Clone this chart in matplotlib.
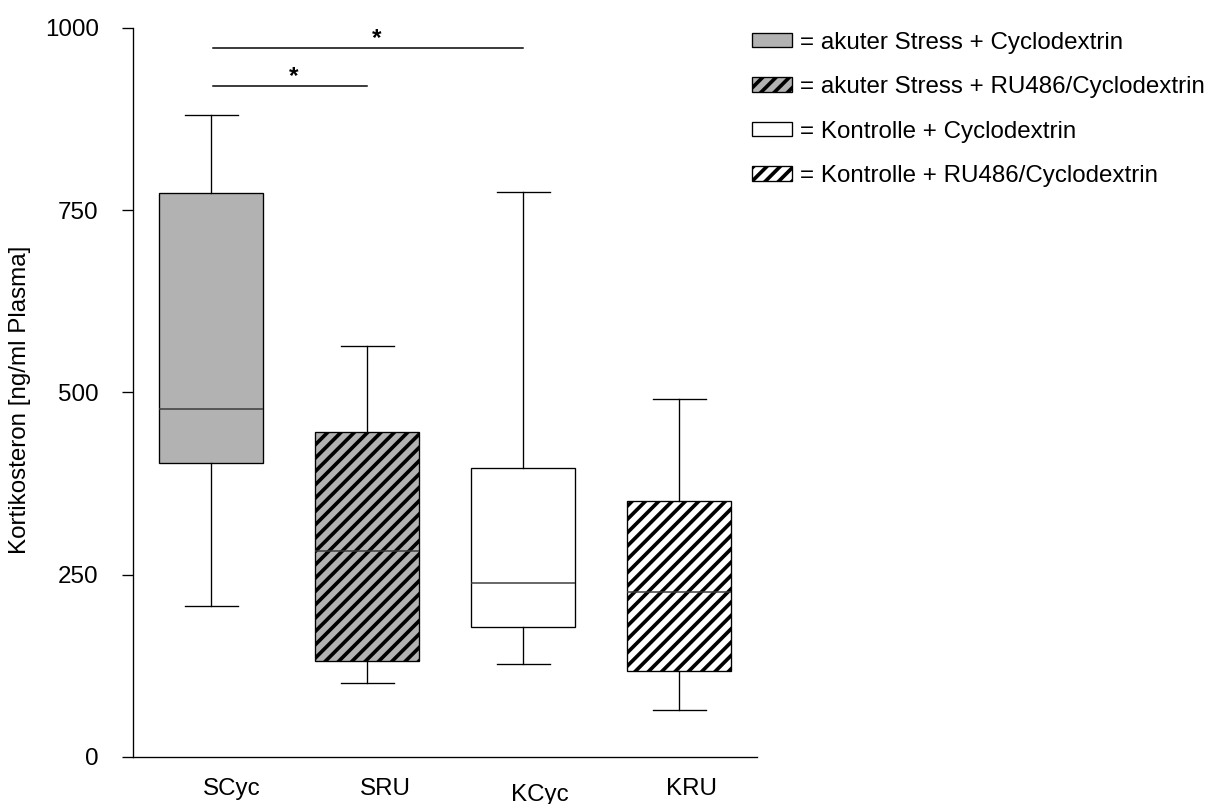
import matplotlib
matplotlib.use("Agg")
import matplotlib.pyplot as plt
import matplotlib.patches as mpatches

plt.rcParams['font.family'] = ['Liberation Sans', 'DejaVu Sans']
plt.rcParams['hatch.linewidth'] = 2.2

# box statistics
groups = ['SCyc', 'SRU', 'KCyc', 'KRU']
whis_hi = [880, 564, 775, 491]
q3 = [773, 446, 396, 351]
median = [477, 283, 238, 226]
q1 = [403, 132, 178, 118]
whis_lo = [207, 101, 127, 64]

legend_labels = ['= akuter Stress + Cyclodextrin',
                 '= akuter Stress + RU486/Cyclodextrin',
                 '= Kontrolle + Cyclodextrin',
                 '= Kontrolle + RU486/Cyclodextrin']

# significance brackets (group a, group b), height, star position
sig_pairs = [(1, 3), (1, 2)]
sig_heights = [973, 920]
star_x = [2.06, 1.53]

fills = ['#b2b2b2', '#b2b2b2', 'white', 'white']
hatches = ['', '///', '', '///']
label_x = [1.13, 2.12, 3.11, 4.08]
label_y = [-0.029, -0.029, -0.037, -0.029]

FS = 14.5

fig = plt.figure(figsize=(10.2, 6.7), dpi=120)
ax = fig.add_axes([0.1087, 0.0585, 0.5098, 0.9067])

stats = []
for i, g in enumerate(groups):
    stats.append(dict(label=g, med=median[i], q1=q1[i], q3=q3[i],
                      whislo=whis_lo[i], whishi=whis_hi[i], fliers=[]))

pos = list(range(1, len(groups) + 1))
bp = ax.bxp(stats, positions=pos, widths=0.667, capwidths=0.34,
            patch_artist=True, showfliers=False,
            boxprops=dict(edgecolor='black', linewidth=0.8),
            whiskerprops=dict(color='black', linewidth=0.8),
            capprops=dict(color='black', linewidth=0.8),
            medianprops=dict(color='#3a3a3a', linewidth=0.9))
for box, fc, h in zip(bp['boxes'], fills, hatches):
    box.set_facecolor(fc)
    box.set_hatch(h)

# significance lines
for (a, b), hgt, sx in zip(sig_pairs, sig_heights, star_x):
    ax.plot([a + 0.01, b], [hgt, hgt], color='black', lw=0.9, clip_on=False)
    ax.text(sx, hgt + 4, '*', ha='center', va='baseline', fontsize=FS,
            fontweight='bold', clip_on=False)

ax.set_xlim(0.5, 4.5)
ax.set_ylim(0, 1000)
ax.set_yticks([0, 250, 500, 750, 1000])
ax.set_xticks([])
ax.spines['top'].set_visible(False)
ax.spines['right'].set_visible(False)
ax.spines['left'].set_linewidth(0.8)
ax.spines['bottom'].set_linewidth(0.8)
ax.tick_params(axis='y', direction='out', length=6.6, width=0.8, pad=14,
               labelsize=FS)

for g, lx, ly in zip(groups, label_x, label_y):
    ax.text(lx, ly, g, transform=ax.get_xaxis_transform(), ha='center',
            va='top', fontsize=FS)

ax.set_ylabel('Kortikosteron [ng/ml Plasma]', fontsize=FS)
ax.yaxis.set_label_coords(-0.163, 0.49)

handles = [mpatches.Patch(facecolor=fc, edgecolor='black', hatch=h,
                          linewidth=0.8)
           for fc, h in zip(fills, hatches)]
ax.legend(handles, legend_labels, loc='upper left',
          bbox_to_anchor=(0.6144, 0.9607), bbox_transform=fig.transFigure,
          frameon=False, fontsize=FS, handlelength=1.65, handleheight=0.54,
          handletextpad=0.33, labelspacing=0.93, borderpad=0,
          borderaxespad=0)

fig.savefig('out.png', dpi=120)
